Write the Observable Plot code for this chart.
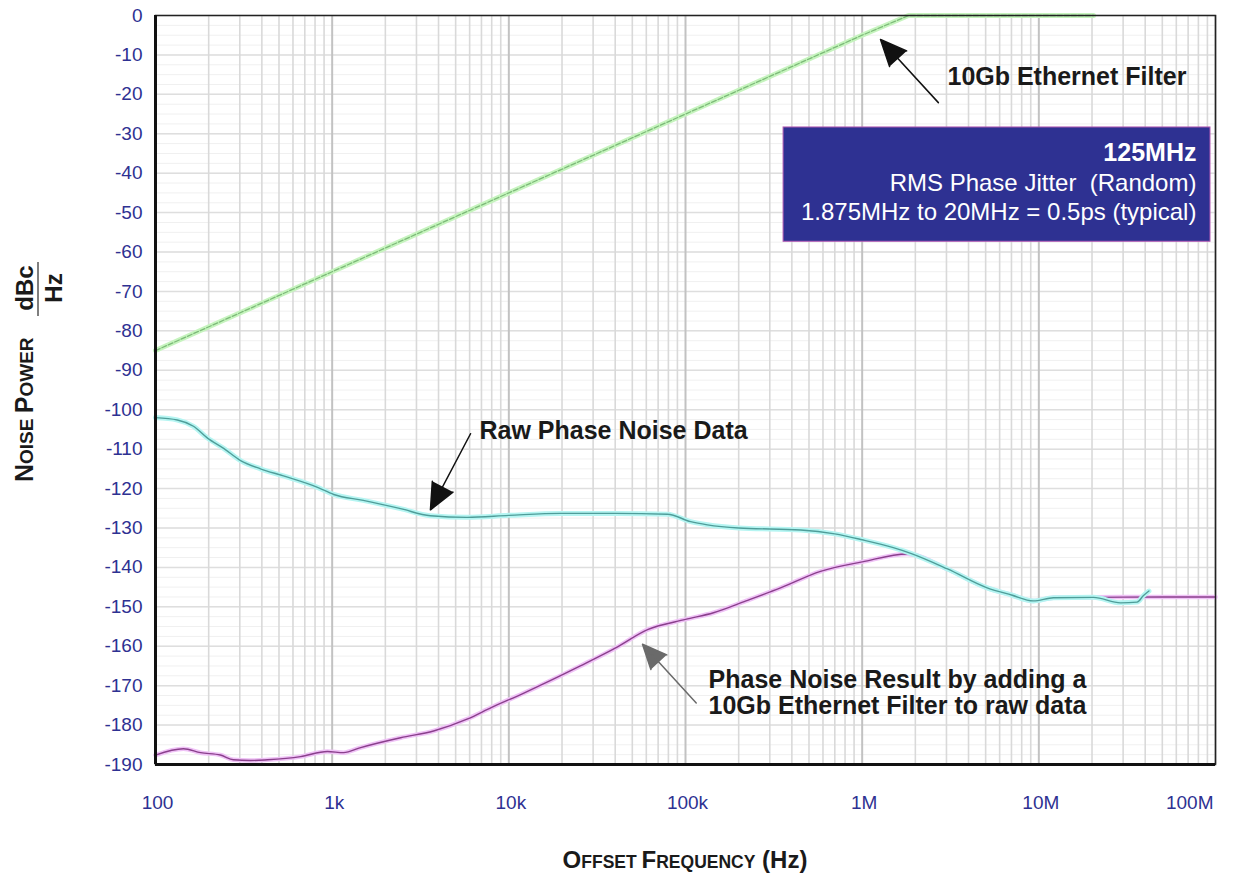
<!DOCTYPE html>
<html><head><meta charset="utf-8">
<script src="https://cdn.jsdelivr.net/npm/d3@7"></script>
<script src="https://cdn.jsdelivr.net/npm/@observablehq/plot@0.6"></script>
<style>body{margin:0;background:#fff}</style>
</head><body><div id="chart"></div>
<script>
// ---- data ----
const filterFreq = [100, 1000, 10000, 100000, 1000000, 1830000, 5000000, 20400000];
const filterDb   = [-85, -65, -45, -25, -5, 0, 0, 0];

const rawFreq = [100, 133, 164, 197, 243, 303, 393, 530, 826, 1020, 1500, 2440, 3600, 5800, 10000, 19600, 40000, 79000, 107000, 133000, 200000, 448000, 700000, 1000000, 1500000, 1900000, 3040000, 5100000, 7000000, 9300000, 12100000, 20400000, 29000000, 36000000, 39000000, 42000000];
const rawDb   = [-102, -102.6, -104.2, -107.2, -109.8, -112.9, -115, -116.8, -119.7, -121.5, -123, -125.1, -126.9, -127.3, -126.8, -126.3, -126.3, -126.5, -128.4, -129.2, -130, -130.5, -131.5, -133, -135, -136.5, -140.4, -145.2, -147, -148.5, -147.7, -147.6, -149, -148.8, -147.2, -146];

const resFreq = [100, 144, 180, 233, 276, 345, 430, 662, 940, 1160, 1450, 2440, 3750, 5800, 8000, 12000, 25400, 40000, 61000, 100000, 144000, 220000, 345000, 581000, 1000000, 1800000, 3040000, 5100000, 7000000, 9300000, 12100000, 20400000, 50000000, 100000000];
const resDb   = [-187.6, -186, -187, -187.6, -188.8, -189, -188.8, -188, -186.7, -187, -185.7, -183.2, -181.5, -178.5, -175.5, -172, -165, -160.5, -155.8, -153.2, -151.5, -148.5, -145.2, -141, -138.6, -136.6, -140.4, -145.2, -147, -148.5, -147.7, -147.6, -147.5, -147.5];

const xTickValues = [100, 1000, 10000, 100000, 1000000, 10000000, 100000000];
const xTickLabels = ["100", "1k", "10k", "100k", "1M", "10M", "100M"];
const yTickValues = [0, -10, -20, -30, -40, -50, -60, -70, -80, -90, -100, -110, -120, -130, -140, -150, -160, -170, -180, -190];

const boxLines = ["125MHz", "RMS Phase Jitter  (Random)", "1.875MHz to 20MHz = 0.5ps (typical)"];
const boxLineDb = [-34.8, -42.6, -50];
const boxExtent = {x1: 359000, x2: 93700000, y1: -28.4, y2: -57.4};

const noteTexts = ["10Gb Ethernet Filter", "Raw Phase Noise Data", "Phase Noise Result by adding a", "10Gb Ethernet Filter to raw data"];
const noteFreq  = [3040000, 6820, 135000, 135000];
const noteDb    = [-15.7, -105.3, -168.5, -175.1];

const arrowTailFreq = [2700000, 6070, 115000];
const arrowTailDb   = [-22.1, -106.1, -174.4];
const arrowTipFreq  = [1270000, 3600, 57100];
const arrowTipDb    = [-6.1, -125.4, -159.5];
const arrowColor    = ["#111", "#111", "#6a6a6a"];

// ---- tables built from the arrays ----
const filter = filterFreq.map((f, i) => ({f, db: filterDb[i]}));
const raw = rawFreq.map((f, i) => ({f, db: rawDb[i]}));
const res = resFreq.map((f, i) => ({f, db: resDb[i]}));
const xTicks = xTickValues.map((v, i) => ({v, label: xTickLabels[i], last: i === xTickValues.length - 1}));
const boxText = boxLines.map((t, i) => ({t, db: boxLineDb[i], bold: i === 0}));
const notes = noteTexts.map((t, i) => ({t, f: noteFreq[i], db: noteDb[i]}));
const arrows = arrowTailFreq.map((f, i) => ({x1: f, y1: arrowTailDb[i], x2: arrowTipFreq[i], y2: arrowTipDb[i], c: arrowColor[i]}));

const minorGrid = [], decadeGrid = [];
for (let k = 2; k <= 7; k++) for (let n = 1; n <= 9; n++) (n === 1 ? decadeGrid : minorGrid).push(n * 10 ** k);
decadeGrid.push(1e8);
const yMinor = d3.range(-190, 0.1, 2.5);

const blue = "#2e3192";
const font = "Liberation Sans, Arial, Helvetica, sans-serif";

const plot = Plot.plot({
  width: 1244, height: 876,
  marginLeft: 155, marginRight: 29, marginTop: 15, marginBottom: 112,
  x: {type: "log", domain: [100, 1e8], axis: null},
  y: {domain: [-190, 0], axis: null},
  style: {fontFamily: font, background: "white", overflow: "visible"},
  marks: [
    Plot.ruleY(yMinor, {stroke: "#f0f0f0", strokeWidth: 1}),
    Plot.ruleY(yTickValues, {stroke: "#dedede", strokeWidth: 1.5}),
    Plot.ruleX(minorGrid, {stroke: "#d9d9d9", strokeWidth: 1.6}),
    Plot.ruleX(decadeGrid, {stroke: "#c2c2c2", strokeWidth: 2}),
    // filter (green)
    Plot.line(filter, {x: "f", y: "db", stroke: "#c6f4be", strokeWidth: 5}),
    Plot.line(filter, {x: "f", y: "db", stroke: "#7cba78", strokeWidth: 1.3, strokeDasharray: "5,2"}),
    // result (magenta)
    Plot.line(res, {x: "f", y: "db", stroke: "#efc2f6", strokeWidth: 4.5, curve: "monotone-x"}),
    Plot.line(res, {x: "f", y: "db", stroke: "#8a3f8c", strokeWidth: 1.4, curve: "monotone-x"}),
    // raw (cyan)
    Plot.line(raw, {x: "f", y: "db", stroke: "#b5f5f2", strokeWidth: 5, curve: "monotone-x"}),
    Plot.line(raw, {x: "f", y: "db", stroke: "#4f9d99", strokeWidth: 1.4, curve: "monotone-x"}),
    // info box
    Plot.rect([boxExtent], {x1: "x1", x2: "x2", y1: "y1", y2: "y2", fill: blue, stroke: "#b45cb4", strokeWidth: 1}),
    Plot.text(boxText.filter(d => d.bold), {x: 78000000, y: "db", text: "t", textAnchor: "end", fill: "white", fontSize: 25, fontWeight: "bold"}),
    Plot.text(boxText.filter(d => !d.bold), {x: 78000000, y: "db", text: "t", textAnchor: "end", fill: "white", fontSize: 24}),
    // annotations
    Plot.text(notes, {x: "f", y: "db", text: "t", textAnchor: "start", fill: "#1a1a1a", fontSize: 25, fontWeight: "bold"}),
    Plot.arrow(arrows, {x1: "x1", y1: "y1", x2: "x2", y2: "y2", stroke: "c", fill: "c", strokeWidth: 1.5, headLength: 32, headAngle: 48}),
    // frame
    Plot.frame({stroke: "#222", strokeWidth: 1.5}),
    Plot.ruleX([100], {stroke: "#111", strokeWidth: 3}),
    Plot.ruleY([-190], {stroke: "#111", strokeWidth: 3}),
    // tick labels
    Plot.text(yTickValues, {y: d => d, text: d => String(d), frameAnchor: "left", textAnchor: "end", dx: -13, fill: blue, fontSize: 19}),
    Plot.text(xTicks.filter(d => !d.last), {x: "v", text: "label", frameAnchor: "bottom", textAnchor: "middle", dx: 2, dy: 44, fill: blue, fontSize: 19}),
    Plot.text(xTicks.filter(d => d.last), {x: "v", text: "label", frameAnchor: "bottom", textAnchor: "end", dx: -2, dy: 44, fill: blue, fontSize: 19})
  ]
});
document.getElementById("chart").append(plot);

// axis titles (small caps)
const svg = d3.select(plot);
const xt = svg.append("text").attr("x", 685).attr("y", 868).attr("text-anchor", "middle")
  .attr("font-family", font).attr("font-weight", "bold").attr("fill", "#1a1a1a");
[["O", 24], ["FFSET ", 17.5], ["F", 24], ["REQUENCY", 17.5], [" (Hz)", 24]].forEach(([t, s]) => xt.append("tspan").attr("font-size", s).text(t));

const yg = svg.append("g").attr("transform", "translate(33,482) rotate(-90)")
  .attr("font-family", font).attr("font-weight", "bold").attr("fill", "#1a1a1a");
const yt = yg.append("text").attr("x", 0).attr("y", 0).attr("text-anchor", "start");
[["N", 25], ["OISE ", 19], ["P", 25], ["OWER", 19]].forEach(([t, s]) => yt.append("tspan").attr("font-size", s).text(t));
yg.append("text").attr("x", 194).attr("y", 0).attr("text-anchor", "middle").attr("font-size", 24).text("dBc");
yg.append("line").attr("x1", 166).attr("x2", 220).attr("y1", 5).attr("y2", 5).attr("stroke", "#555").attr("stroke-width", 1.5);
yg.append("text").attr("x", 194).attr("y", 29).attr("text-anchor", "middle").attr("font-size", 24).text("Hz");
</script>
</body></html>
